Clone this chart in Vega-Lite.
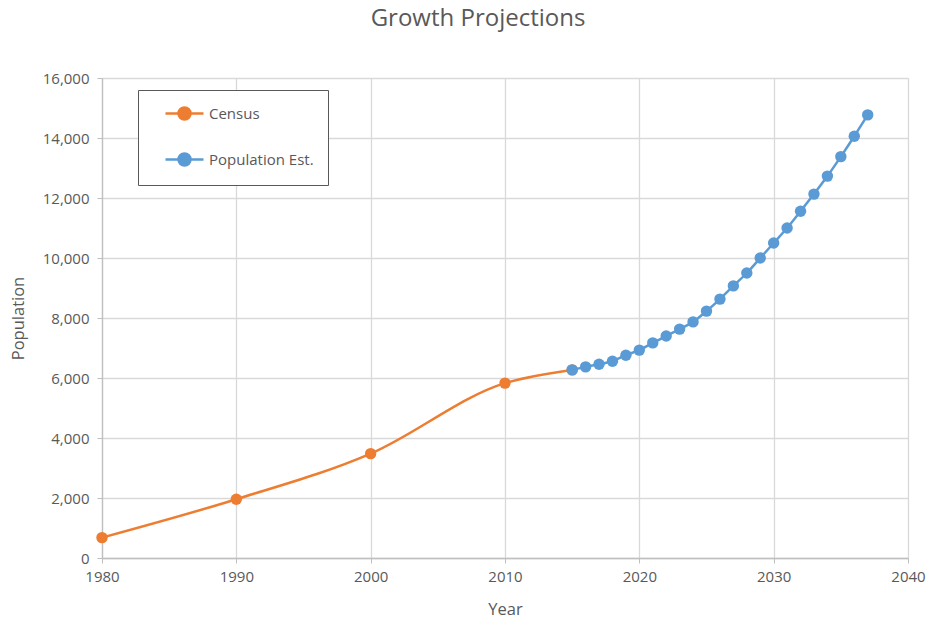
{
  "$schema": "https://vega.github.io/schema/vega-lite/v6.json",
  "width": 806,
  "height": 480,
  "autosize": {"type": "none"},
  "padding": {"top": 78, "left": 102, "right": 22, "bottom": 62},
  "background": "white",
  "title": {
    "text": "Growth Projections",
    "anchor": "middle",
    "frame": "group",
    "dx": -27,
    "offset": 40,
    "fontSize": 24,
    "font": "Open Sans",
    "fontWeight": "normal",
    "color": "#595959"
  },
  "config": {
    "font": "Open Sans",
    "view": {"stroke": null},
    "axis": {
      "labelFontSize": 15,
      "labelColor": "#595959",
      "titleFontSize": 16.5,
      "titleFontWeight": "normal",
      "titleColor": "#595959",
      "gridColor": "#d9d9d9",
      "gridWidth": 1.3,
      "domainColor": "#bfbfbf",
      "tickColor": "#bfbfbf",
      "domainWidth": 1.3
    }
  },
  "data": {
    "values": [
      {"year": 1980, "pop": 680, "series": "Census"},
      {"year": 1990, "pop": 1960, "series": "Census"},
      {"year": 2000, "pop": 3480, "series": "Census"},
      {"year": 2010, "pop": 5830, "series": "Census"},
      {"year": 2015, "pop": 6270, "series": "Census"},
      {"year": 2015, "pop": 6270, "series": "Population Est."},
      {"year": 2016, "pop": 6370, "series": "Population Est."},
      {"year": 2017, "pop": 6460, "series": "Population Est."},
      {"year": 2018, "pop": 6560, "series": "Population Est."},
      {"year": 2019, "pop": 6760, "series": "Population Est."},
      {"year": 2020, "pop": 6930, "series": "Population Est."},
      {"year": 2021, "pop": 7170, "series": "Population Est."},
      {"year": 2022, "pop": 7400, "series": "Population Est."},
      {"year": 2023, "pop": 7630, "series": "Population Est."},
      {"year": 2024, "pop": 7870, "series": "Population Est."},
      {"year": 2025, "pop": 8230, "series": "Population Est."},
      {"year": 2026, "pop": 8630, "series": "Population Est."},
      {"year": 2027, "pop": 9070, "series": "Population Est."},
      {"year": 2028, "pop": 9500, "series": "Population Est."},
      {"year": 2029, "pop": 10000, "series": "Population Est."},
      {"year": 2030, "pop": 10500, "series": "Population Est."},
      {"year": 2031, "pop": 11000, "series": "Population Est."},
      {"year": 2032, "pop": 11560, "series": "Population Est."},
      {"year": 2033, "pop": 12130, "series": "Population Est."},
      {"year": 2034, "pop": 12730, "series": "Population Est."},
      {"year": 2035, "pop": 13380, "series": "Population Est."},
      {"year": 2036, "pop": 14060, "series": "Population Est."},
      {"year": 2037, "pop": 14770, "series": "Population Est."}
    ]
  },
  "mark": {
    "type": "line",
    "interpolate": "monotone",
    "strokeWidth": 2.5,
    "point": {"filled": true, "size": 130, "opacity": 1}
  },
  "encoding": {
    "x": {
      "field": "year",
      "type": "quantitative",
      "title": "Year",
      "scale": {"domain": [1980, 2040], "nice": false, "zero": false},
      "axis": {"values": [1980, 1990, 2000, 2010, 2020, 2030, 2040], "format": "d", "labelFlush": false, "labelPadding": 6, "titlePadding": 17, "tickSize": 5}
    },
    "y": {
      "field": "pop",
      "type": "quantitative",
      "title": "Population",
      "scale": {"domain": [0, 16000], "nice": false},
      "axis": {"values": [0, 2000, 4000, 6000, 8000, 10000, 12000, 14000, 16000], "format": ",d", "labelFlush": false, "labelPadding": 8, "titlePadding": 16, "tickSize": 5}
    },
    "color": {
      "field": "series",
      "type": "nominal",
      "scale": {"domain": ["Census", "Population Est."], "range": ["#ED7D31", "#5B9BD5"]},
      "legend": {
        "title": null,
        "orient": "none",
        "legendX": 36,
        "legendY": 12,
        "padding": 14,
        "strokeColor": "#595959",
        "fillColor": "white",
        "labelFontSize": 15,
        "labelColor": "#595959",
        "labelOffset": 38,
        "rowPadding": 23,
        "symbolSize": 256,
        "symbolType": "M0.5,0H5.25M3.625,0A0.75,0.75 0 1,1 2.125,0A0.75,0.75 0 1,1 3.625,0Z",
        "symbolStrokeWidth": 2.5,
        "encode": {
          "symbols": {
            "update": {
              "fill": {"scale": "color", "field": "value"},
              "stroke": {"scale": "color", "field": "value"},
              "opacity": {"value": 1}
            }
          }
        }
      }
    }
  }
}
